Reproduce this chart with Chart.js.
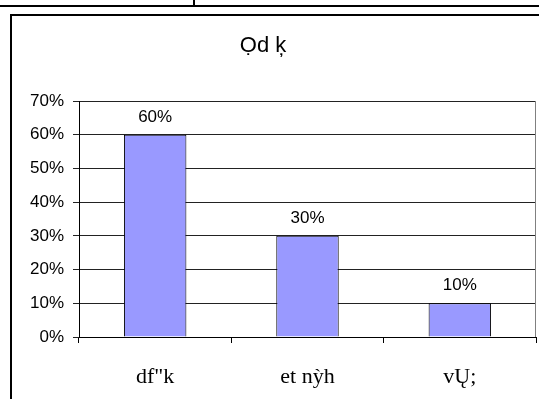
<!DOCTYPE html>
<html>
<head>
<meta charset="utf-8">
<script src="https://cdn.jsdelivr.net/npm/chart.js@4"></script>
<style>
  html, body { margin: 0; padding: 0; background: #fff; }
  #wrap { width: 539px; height: 399px; }
</style>
</head>
<body>
<div id="wrap"><canvas id="chart" width="539" height="399"></canvas></div>
<script>
// chart data
const chartTitle = 'Ọd ķ';
const categories = ['df"k', 'et nỳh', 'vŲ;'];
const values = [60, 30, 10];
const yTicks = [0, 10, 20, 30, 40, 50, 60, 70];

// frame lines (sheet borders, chart border, plot right edge) + title
const framePlugin = {
    id: 'frame',
    afterDraw(chart) {
        const ctx = chart.ctx;
        const area = chart.chartArea;
        ctx.save();
        ctx.strokeStyle = '#000';
        ctx.lineWidth = 2;
        ctx.beginPath();
        ctx.moveTo(0, 6); ctx.lineTo(539, 6);
        ctx.moveTo(194, 0); ctx.lineTo(194, 6);
        ctx.moveTo(11, 399); ctx.lineTo(11, 15); ctx.lineTo(539, 15);
        ctx.stroke();
        ctx.strokeStyle = '#808080';
        ctx.lineWidth = 1;
        ctx.beginPath();
        ctx.moveTo(Math.round(area.right) - 0.5, area.top);
        ctx.lineTo(Math.round(area.right) - 0.5, area.bottom);
        ctx.stroke();

        // chart title
        ctx.font = '22px "Liberation Sans", Arial, sans-serif';
        ctx.fillStyle = '#000';
        ctx.textAlign = 'center';
        ctx.textBaseline = 'middle';
        ctx.fillText(chartTitle, 263, 46);
        ctx.restore();
    }
};

// value labels above the bars
const barLabels = {
    id: 'barLabels',
    afterDatasetsDraw(chart) {
        const ctx = chart.ctx;
        const meta = chart.getDatasetMeta(0);
        ctx.save();
        ctx.font = '17px "Liberation Sans", Arial, sans-serif';
        ctx.fillStyle = '#000';
        ctx.textAlign = 'center';
        ctx.textBaseline = 'bottom';
        meta.data.forEach((bar, i) => {
            ctx.fillText(values[i] + '%', bar.x, bar.y - 9);
        });
        ctx.restore();
    }
};

new Chart(document.getElementById('chart'), {
    type: 'bar',
    data: {
        labels: categories,
        datasets: [{
            data: values,
            backgroundColor: '#9999FF',
            borderColor: '#000000',
            borderWidth: 1,
            categoryPercentage: 1,
            barPercentage: 0.41
        }]
    },
    options: {
        responsive: false,
        animation: false,
        devicePixelRatio: 1,
        layout: {
            padding: { left: 0, right: 3, top: 101, bottom: 0 }
        },
        plugins: {
            legend: { display: false },
            tooltip: { enabled: false },
            title: { display: false }
        },
        scales: {
            x: {
                afterFit(scale) { scale.height = 62; },
                grid: {
                    offset: true,
                    drawOnChartArea: false,
                    drawTicks: true,
                    tickLength: 6,
                    color: '#000'
                },
                border: { color: '#000', width: 1 },
                ticks: {
                    color: '#000',
                    padding: 21,
                    font: { family: '"Liberation Serif", "Times New Roman", serif', size: 22 }
                }
            },
            y: {
                min: 0,
                max: 70,
                afterFit(scale) { scale.width = 79; },
                afterBuildTicks(scale) {
                    scale.ticks = yTicks.map(v => ({ value: v }));
                },
                grid: {
                    color: '#222',
                    tickLength: 6
                },
                border: { color: '#000', width: 1 },
                ticks: {
                    color: '#000',
                    padding: 9,
                    font: { family: '"Liberation Sans", Arial, sans-serif', size: 17 },
                    callback: v => v + '%'
                }
            }
        }
    },
    plugins: [framePlugin, barLabels]
});
</script>
</body>
</html>
